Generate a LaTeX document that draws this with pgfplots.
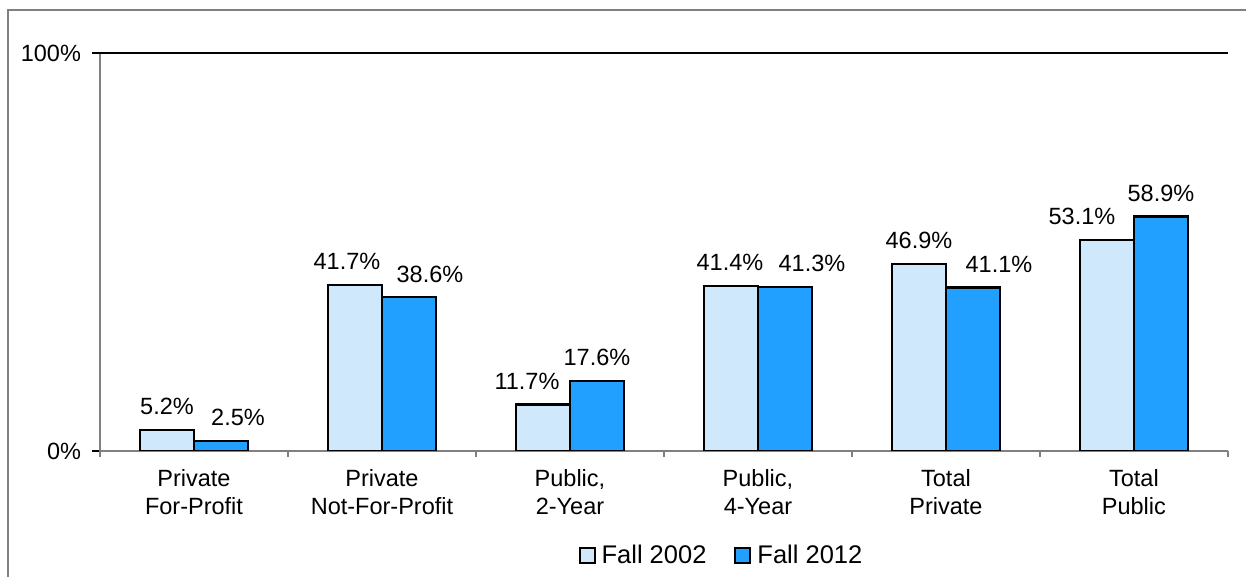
\documentclass[border=0pt]{standalone}
\usepackage{fontspec}
\setmainfont{Liberation Sans}
\usepackage{pgfplots}
\usepackage{pgfplotstable}
\pgfplotsset{compat=1.18}
\definecolor{lightb}{RGB}{207,232,252}
\definecolor{darkb}{RGB}{33,160,255}
\definecolor{axgray}{RGB}{128,128,128}
\pgfplotstableread{
x y dx
0 5.2 0
1 41.7 -8
2 11.7 -16
3 41.4 -1
4 46.9 0
5 53.1 -25
}\fallA
\pgfplotstableread{
x y dx
0 2.5 17
1 38.6 21
2 17.6 0
3 41.3 27
4 41.1 26
5 58.9 0
}\fallB
\begin{document}
\fontsize{23.5bp}{28bp}\selectfont
\begin{tikzpicture}[x=1bp,y=1bp]
\useasboundingbox (0,0) rectangle (1246,577);
\draw[axgray, line width=2bp] (8,0) -- (8,567) -- (1246,567);
\begin{axis}[
  at={(100bp,126bp)}, anchor=south west,
  scale only axis, width=1128bp, height=398bp,
  xmin=-0.5, xmax=5.5, ymin=0, ymax=100,
  ybar=0pt, bar width=54bp,
  axis x line*=bottom, axis y line*=left,
  axis line style={axgray, line width=1.5bp, -},
  /pgf/number format/assume math mode=true,
  font=\fontsize{23.5bp}{28bp}\selectfont,
  ytick={0}, yticklabels={0\%},
  extra y ticks={100}, extra y tick labels={100\%},
  extra y tick style={ymajorgrids=true, major grid style={black, line width=1.3bp}},
  ytick style={black, line width=1.3bp},
  yticklabel style={xshift=-3bp},
  tick align=outside, major tick length=8bp,
  xtick={0,...,5}, x tick style={draw=none},
  xticklabels={{Private\\For-Profit}, {Private\\Not-For-Profit}, {Public,\\2-Year}, {Public,\\4-Year}, {Total\\Private}, {Total\\Public}},
  xticklabel style={align=center, yshift=-2bp},
  extra x ticks={-0.5,0.5,1.5,2.5,3.5,4.5,5.5},
  extra x tick labels={},
  extra x tick style={x tick style={draw=axgray, line width=1.5bp}, major tick length=6bp},
  visualization depends on={\thisrow{dx}\as\dxval},
  nodes near coords={\pgfmathprintnumber[fixed,precision=1,fixed zerofill]{\pgfplotspointmeta}\%},
  nodes near coords style={anchor=south, inner sep=2bp, yshift=12bp, xshift=\dxval bp, black},
  legend columns=2,
  legend style={draw=none, fill=none, at={(0.551,-0.265)}, anchor=center,
    /tikz/every even column/.append style={column sep=26bp},
    font=\fontsize{25.5bp}{30bp}\selectfont},
  legend image code/.code={\draw[#1, line width=2bp] (0bp,-7bp) rectangle (15bp,8bp); \path[draw=none,fill=none] (0bp,0bp) rectangle (20bp,0.1bp);},
]
\addplot[fill=lightb, draw=black, line width=2.2bp] table[x=x,y=y] {\fallA};
\addplot[fill=darkb, draw=black, line width=2.2bp] table[x=x,y=y] {\fallB};
\legend{Fall 2002, Fall 2012}
\end{axis}
\end{tikzpicture}
\end{document}
